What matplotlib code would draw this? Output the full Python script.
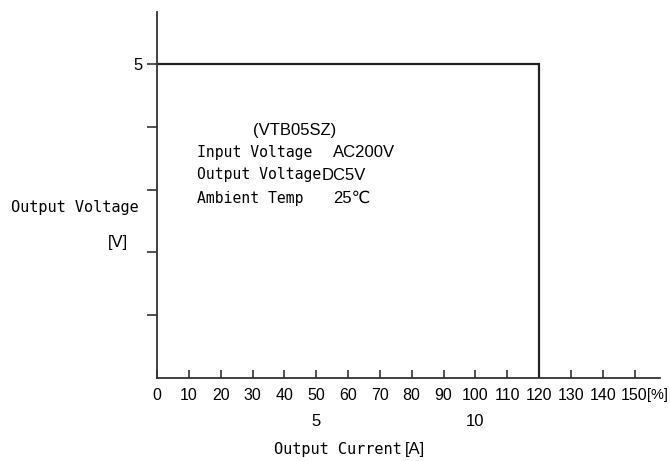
import matplotlib
matplotlib.use('Agg')
import matplotlib.pyplot as plt

# Output characteristic: constant voltage up to 120 % load, then drops to 0
load_pct = [0, 120, 120]
voltage = [5, 5, 0]

pct_ticks = list(range(0, 160, 10))
volt_ticks = [1, 2, 3, 4, 5]
volt_labels = ['', '', '', '', '5']
amp_ticks = [5, 10]          # current in A
amp_at_pct = [50, 100]       # where they fall on the % scale

notes = ['Input Voltage', 'Output Voltage', 'Ambient Temp']
note_vals = ['AC200V', 'DC5V', '25℃']
model = '(VTB05SZ)'

MONO = 'DejaVu Sans Mono'
NARROW = ['Liberation Sans Narrow', 'Liberation Sans', 'DejaVu Sans']

fig = plt.figure(figsize=(6.70, 4.61), dpi=100)
W, H = 670, 461
ax = fig.add_axes([157 / W, (H - 378) / H, (660 - 157) / W, (378 - 12) / H])

ax.plot(load_pct, voltage, color='#222222', lw=1.6, solid_joinstyle='miter')

ax.set_xlim(0, 158)
ax.set_ylim(0, 5.83)
ax.spines['top'].set_visible(False)
ax.spines['right'].set_visible(False)
for s in ('left', 'bottom'):
    ax.spines[s].set_color('#333333')
    ax.spines[s].set_linewidth(1.3)

ax.set_xticks(pct_ticks)
ax.set_xticklabels([str(t) for t in pct_ticks], family=NARROW, fontsize=11.5)
ax.tick_params(axis='x', direction='in', length=6, width=1.2, pad=7,
               color='#333333')
ax.set_yticks(volt_ticks)
ax.set_yticklabels(volt_labels, family=NARROW, fontsize=12)
ax.tick_params(axis='y', direction='out', length=7, width=1.2, pad=3,
               color='#333333')

# percent unit after the last tick label
ax.annotate('[%]', xy=(150, 0), xycoords='data', xytext=(9.2, -7.3),
            textcoords='offset points', family=NARROW, fontsize=10.5,
            ha='left', va='top', annotation_clip=False)

# second row: current in A
for a, p in zip(amp_ticks, amp_at_pct):
    ax.annotate(str(a), xy=(p, 0), xycoords='data', xytext=(0, -31),
                textcoords='offset points', family=NARROW, fontsize=12,
                ha='center', va='center', annotation_clip=False)

# axis titles
fig.text(402 / W, 1 - 449 / H, 'Output Current', family=MONO, fontsize=11,
         ha='right', va='center')
fig.text(405 / W, 1 - 449 / H, '[A]', family=NARROW, fontsize=12,
         ha='left', va='center')
fig.text(75 / W, 1 - 207 / H, 'Output Voltage', family=MONO, fontsize=11,
         ha='center', va='center')
fig.text(118 / W, 1 - 243 / H, '[V]', family=NARROW, fontsize=12,
         ha='center', va='center')

# spec box
fig.text(295 / W, 1 - 130 / H, model, family=NARROW, fontsize=12,
         ha='center', va='center')
val_x = [333, 322, 333]
for i, (n, v) in enumerate(zip(notes, note_vals)):
    y = 1 - (152 + 23 * i) / H
    fig.text(197 / W, y, n, family=MONO, fontsize=10.6, ha='left', va='center')
    fig.text(val_x[i] / W, y, v, family=NARROW, fontsize=12, ha='left',
             va='center')

fig.savefig('out.png', dpi=100)
